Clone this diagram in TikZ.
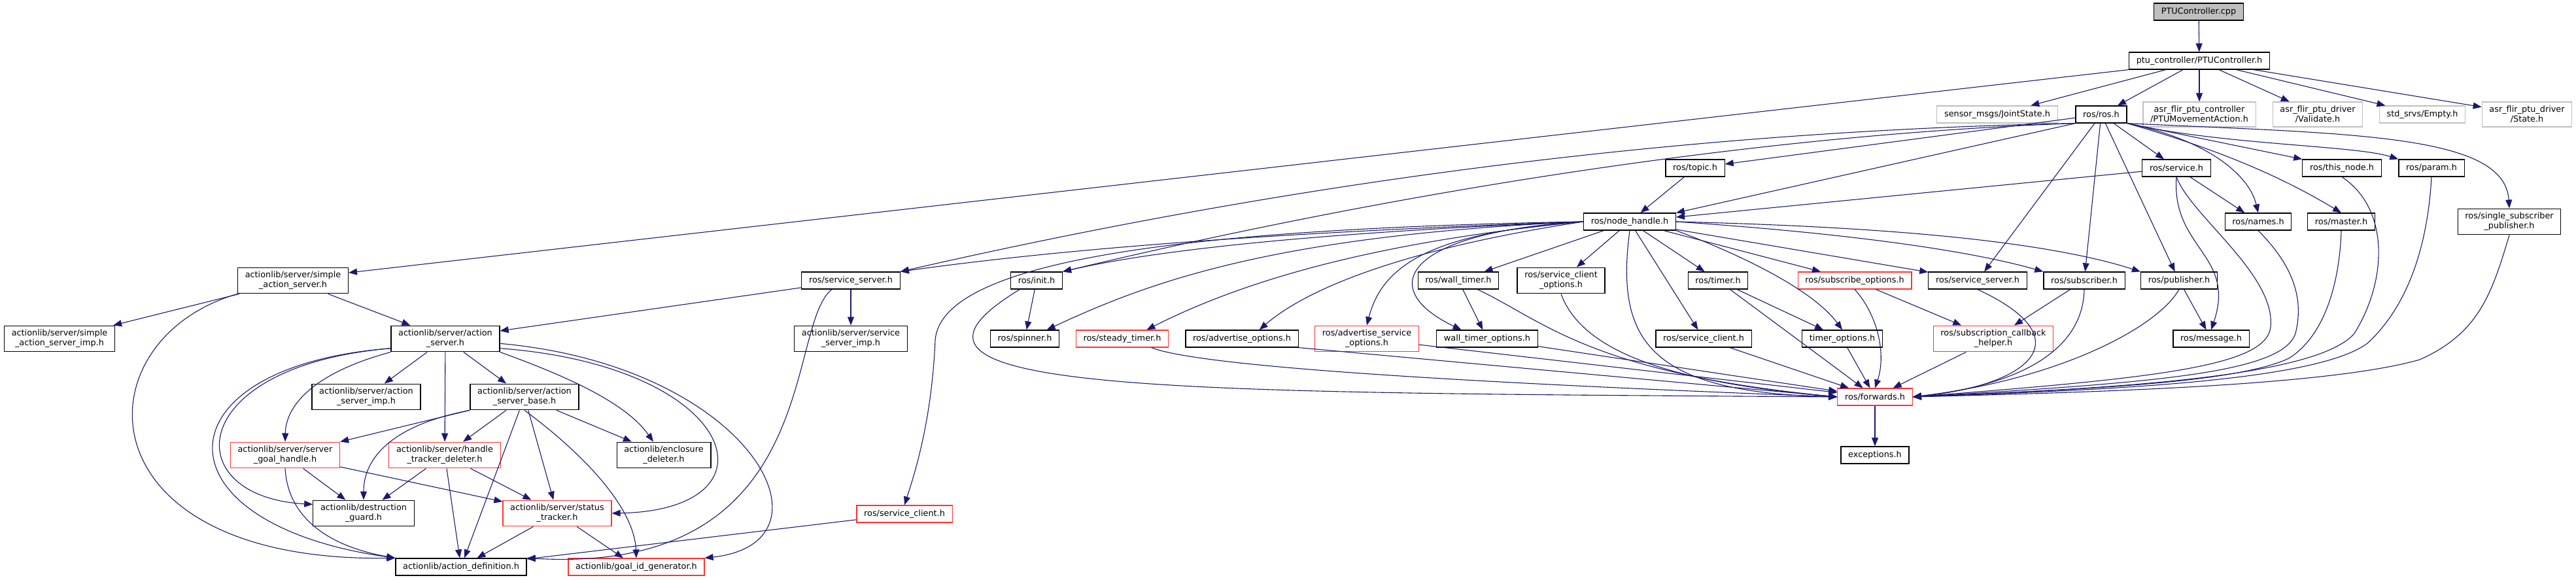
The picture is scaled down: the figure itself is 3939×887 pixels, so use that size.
\documentclass[tikz,border=0pt]{standalone}
\usepackage{fontspec}
\setmainfont{DejaVu Sans}
\usepackage{tikz}
\usetikzlibrary{arrows.meta}

\definecolor{edgeblue}{HTML}{191970}
\definecolor{redline}{HTML}{FF3333}
\definecolor{grayline}{HTML}{BFBFBF}
\definecolor{rootgray}{HTML}{BFBFBF}

\begin{document}
\begin{tikzpicture}[
    x=0.5pt, y=-0.5pt,
    box/.style={rectangle, draw=black, line width=0.6pt, fill=white, align=center, inner xsep=5.6pt, inner ysep=3pt, minimum height=13pt, font=\fontsize{6.42pt}{7.5pt}\selectfont},
    redbox/.style={box, draw=redline},
    graybox/.style={box, draw=grayline},
    rootbox/.style={box, fill=rootgray},
    arrow/.style={-{Triangle[length=6.5pt,width=5pt]}, draw=edgeblue, line width=0.55pt}
]
\useasboundingbox (0,0) rectangle (3939,887);

% top rows
\node[rootbox] (cpp) at (3362,18) {PTUController.cpp};
\node[box] (ptuh) at (3363,93) {ptu\_controller/PTUController.h};
\node[graybox] (joint) at (3054,175) {sensor\_msgs/JointState.h};
\node[box] (rosh) at (3213,175) {ros/ros.h};
\node[graybox] (pmove) at (3363,175) {asr\_flir\_ptu\_controller\\/PTUMovementAction.h};
\node[graybox] (valid) at (3544,175) {asr\_flir\_ptu\_driver\\/Validate.h};
\node[graybox] (empty) at (3704,175) {std\_srvs/Empty.h};
\node[graybox] (state) at (3864,175) {asr\_flir\_ptu\_driver\\/State.h};

\node[box] (topic) at (2592,257) {ros/topic.h};
\node[box] (service) at (3328,257) {ros/service.h};
\node[box] (thisnode) at (3581,257) {ros/this\_node.h};
\node[box] (param) at (3718,257) {ros/param.h};

\node[box] (nodeh) at (2492,339) {ros/node\_handle.h};
\node[box] (names) at (3453,339) {ros/names.h};
\node[box] (master) at (3580,339) {ros/master.h};
\node[box] (ssp) at (3837,339) {ros/single\_subscriber\\\_publisher.h};

\node[box] (sas) at (448,429) {actionlib/server/simple\\\_action\_server.h};
\node[box] (srvA) at (1301,429) {ros/service\_server.h};
\node[box] (init) at (1585,429) {ros/init.h};
\node[box] (walltimer) at (2230,429) {ros/wall\_timer.h};
\node[box] (scopts) at (2387,429) {ros/service\_client\\\_options.h};
\node[box] (timer) at (2627,429) {ros/timer.h};
\node[redbox] (subopts) at (2836,429) {ros/subscribe\_options.h};
\node[box] (srvB) at (3024,429) {ros/service\_server.h};
\node[box] (subscriber) at (3187,429) {ros/subscriber.h};
\node[box] (publisher) at (3332,429) {ros/publisher.h};

\node[box] (sasimp) at (91,518) {actionlib/server/simple\\\_action\_server\_imp.h};
\node[box] (as) at (681,518) {actionlib/server/action\\\_server.h};
\node[box] (ssimp) at (1301,518) {actionlib/server/service\\\_server\_imp.h};
\node[box] (spinner) at (1567,518) {ros/spinner.h};
\node[redbox] (steady) at (1716,518) {ros/steady\_timer.h};
\node[box] (advopts) at (1899,518) {ros/advertise\_options.h};
\node[redbox] (advsrv) at (2090,518) {ros/advertise\_service\\\_options.h};
\node[box] (wtopts) at (2274,518) {wall\_timer\_options.h};
\node[box] (clientB) at (2605,518) {ros/service\_client.h};
\node[box] (timeropts) at (2817,518) {timer\_options.h};
\node[redbox] (subcb) at (3048,518) {ros/subscription\_callback\\\_helper.h};
\node[box] (message) at (3381,518) {ros/message.h};

\node[box] (asimp) at (560,607) {actionlib/server/action\\\_server\_imp.h};
\node[box] (asbase) at (802,607) {actionlib/server/action\\\_server\_base.h};
\node[redbox] (forwards) at (2867,607) {ros/forwards.h};

\node[redbox] (sgh) at (436,696) {actionlib/server/server\\\_goal\_handle.h};
\node[redbox] (htd) at (680,696) {actionlib/server/handle\\\_tracker\_deleter.h};
\node[box] (encl) at (1015,696) {actionlib/enclosure\\\_deleter.h};
\node[box] (exceptions) at (2867,696) {exceptions.h};

\node[box] (dguard) at (556,785) {actionlib/destruction\\\_guard.h};
\node[redbox] (stracker) at (852,785) {actionlib/server/status\\\_tracker.h};
\node[redbox] (clientA) at (1383,786) {ros/service\_client.h};

\node[box] (adef) at (705,867) {actionlib/action\_definition.h};
\node[redbox] (goalid) at (973,867) {actionlib/goal\_id\_generator.h};

% PTUController
\draw[arrow] (cpp) -- (ptuh);
\draw[arrow] (ptuh.south west) -- (sas.8);
\draw[arrow] (ptuh) -- (joint);
\draw[arrow] (ptuh) -- (rosh);
\draw[arrow] (ptuh) -- (pmove);
\draw[arrow] (ptuh) -- (valid);
\draw[arrow] (ptuh) -- (empty);
\draw[arrow] (ptuh) -- (state);

% ros.h
\draw[arrow] (rosh) -- (topic);
\draw[arrow] (rosh.south west) -- (nodeh.north east);
\draw[arrow] (rosh.south west) .. controls (2700,198) and (2100,250) .. (srvA.north east);
\draw[arrow] (rosh.south west) .. controls (2700,205) and (2150,290) .. (init.north east);
\draw[arrow] (rosh) -- (srvB);
\draw[arrow] (rosh) -- (subscriber);
\draw[arrow] (rosh) -- (publisher);
\draw[arrow] (rosh) -- (service);
\draw[arrow] (rosh.south east) -- (thisnode.north west);
\draw[arrow] (rosh.south east) .. controls (3400,222) and (3600,222) .. (param.north west);
\draw[arrow] (rosh.south east) .. controls (3600,205) and (3830,205) .. (ssp.north);
\draw[arrow] (rosh.south east) .. controls (3380,215) and (3440,270) .. (names.north);
\draw[arrow] (rosh.south east) .. controls (3380,225) and (3480,265) .. (master.north);
\draw[arrow] (topic) -- (nodeh);

% service.h and the right hand headers
\draw[arrow] (service) -- (nodeh);
\draw[arrow] (service) -- (names);
\draw[arrow] (service.south) .. controls (3320,380) and (3420,390) .. (message.north);
\draw[arrow] (service.south) .. controls (3350,330) and (3480,420) .. (3472,500) .. controls (3466,560) and (3300,578) .. (forwards.east);
\draw[arrow] (names.south) .. controls (3500,400) and (3525,450) .. (3510,510) .. controls (3490,570) and (3300,585) .. (forwards.east);
\draw[arrow] (master.south) .. controls (3578,420) and (3560,510) .. (3500,548) .. controls (3420,585) and (3200,595) .. (forwards.east);
\draw[arrow] (thisnode.south) .. controls (3655,320) and (3650,430) .. (3600,510) .. controls (3540,580) and (3200,595) .. (forwards.east);
\draw[arrow] (param.south) .. controls (3712,380) and (3680,470) .. (3620,525) .. controls (3540,585) and (3200,597) .. (forwards.east);
\draw[arrow] (ssp.south) .. controls (3810,450) and (3790,510) .. (3700,550) .. controls (3560,590) and (3200,600) .. (forwards.east);
\draw[arrow] (srvB.south) .. controls (3190,520) and (3100,590) .. (forwards.east);
\draw[arrow] (subscriber.south) .. controls (3185,540) and (3080,590) .. (forwards.east);
\draw[arrow] (publisher.south) .. controls (3300,500) and (3150,580) .. (forwards.east);
\draw[arrow] (publisher) -- (message);
\draw[arrow] (subscriber) -- (subcb);
\draw[arrow] (subcb) -- (forwards);

% node_handle.h
\draw[arrow] (nodeh) -- (walltimer);
\draw[arrow] (nodeh) -- (scopts);
\draw[arrow] (nodeh) -- (clientB);
\draw[arrow] (nodeh) -- (timer);
\draw[arrow] (nodeh) -- (subopts);
\draw[arrow] (nodeh) -- (srvB);
\draw[arrow] (nodeh.east) .. controls (2800,355) and (3000,380) .. (subscriber.north west);
\draw[arrow] (nodeh.east) .. controls (2800,345) and (3100,360) .. (publisher.north west);
\draw[arrow] (nodeh.south east) .. controls (2650,385) and (2770,440) .. (timeropts.north);
\draw[arrow] (nodeh.south) .. controls (2470,520) and (2520,600) .. (forwards.west);
\draw[arrow] (nodeh.west) .. controls (2100,350) and (1700,370) .. (srvA.north east);
\draw[arrow] (nodeh.west) .. controls (2100,352) and (1800,375) .. (init.north east);
\draw[arrow] (nodeh.west) .. controls (1800,350) and (1440,400) .. (1430,520) .. controls (1425,640) and (1400,720) .. (clientA.north);
\draw[arrow] (nodeh.west) .. controls (1950,360) and (1760,430) .. (spinner.22);
\draw[arrow] (nodeh.west) .. controls (2100,370) and (1900,430) .. (steady.20);
\draw[arrow] (nodeh.west) .. controls (2150,380) and (2000,440) .. (advopts.27);
\draw[arrow] (nodeh.west) .. controls (2200,355) and (2115,400) .. (advsrv.north);
\draw[arrow] (nodeh.west) .. controls (2150,355) and (2100,440) .. (wtopts.161);

% into ros/forwards.h
\draw[arrow] (init) -- (spinner);
\draw[arrow] (init.208) .. controls (1300,600) and (1750,600) .. (forwards.west);
\draw[arrow] (steady.-17) .. controls (1820,555) and (2100,580) .. (forwards.west);
\draw[arrow] (advopts.south east) -- (forwards.west);
\draw[arrow] (advsrv) -- (forwards);
\draw[arrow] (wtopts) -- (forwards);
\draw[arrow] (walltimer) -- (wtopts);
\draw[arrow] (walltimer.-25) .. controls (2360,490) and (2430,570) .. (forwards.west);
\draw[arrow] (scopts.south) .. controls (2420,540) and (2560,585) .. (forwards.west);
\draw[arrow] (clientB) -- (forwards);
\draw[arrow] (timer) -- (timeropts);
\draw[arrow] (timer) -- (forwards);
\draw[arrow] (timeropts) -- (forwards);
\draw[arrow] (subopts) -- (subcb);
\draw[arrow] (subopts.south) .. controls (2870,480) and (2885,540) .. (forwards.north);
\draw[arrow] (forwards) -- (exceptions);

% actionlib
\draw[arrow] (sas) -- (sasimp);
\draw[arrow] (sas) -- (as);
\draw[arrow] (sas.south west) .. controls (120,520) and (120,860) .. (adef.north west);
\draw[arrow] (srvA) -- (ssimp);
\draw[arrow] (srvA) -- (as);
\draw[arrow] (srvA.205) .. controls (1200,500) and (1260,880) .. (adef.north east);
\draw[arrow] (clientA) -- (adef);
\draw[arrow] (as) -- (asimp);
\draw[arrow] (as) -- (asbase);
\draw[arrow] (as) -- (htd);
\draw[arrow] (as.south west) .. controls (480,570) and (437,620) .. (sgh.north);
\draw[arrow] (as.190) .. controls (280,560) and (270,760) .. (dguard.170);
\draw[arrow] (as.190) .. controls (240,560) and (230,800) .. (adef.north west);
\draw[arrow] (as.south east) .. controls (880,580) and (960,620) .. (encl.128);
\draw[arrow] (as.350) .. controls (1130,560) and (1200,780) .. (stracker.east);
\draw[arrow] (as.355) .. controls (1150,560) and (1290,830) .. (goalid.north east);
\draw[arrow] (asbase) -- (sgh);
\draw[arrow] (asbase.south west) .. controls (600,650) and (556,700) .. (dguard.north);
\draw[arrow] (asbase) -- (htd);
\draw[arrow] (asbase) -- (adef);
\draw[arrow] (asbase) -- (stracker);
\draw[arrow] (asbase.south) .. controls (900,700) and (970,780) .. (goalid.north);
\draw[arrow] (asbase) -- (encl);
\draw[arrow] (sgh) -- (dguard);
\draw[arrow] (sgh.south) .. controls (440,790) and (500,835) .. (adef.north west);
\draw[arrow] (sgh) -- (stracker);
\draw[arrow] (htd) -- (dguard);
\draw[arrow] (htd) -- (adef);
\draw[arrow] (htd) -- (stracker);
\draw[arrow] (stracker) -- (adef);
\draw[arrow] (stracker) -- (goalid);
\end{tikzpicture}
\end{document}
